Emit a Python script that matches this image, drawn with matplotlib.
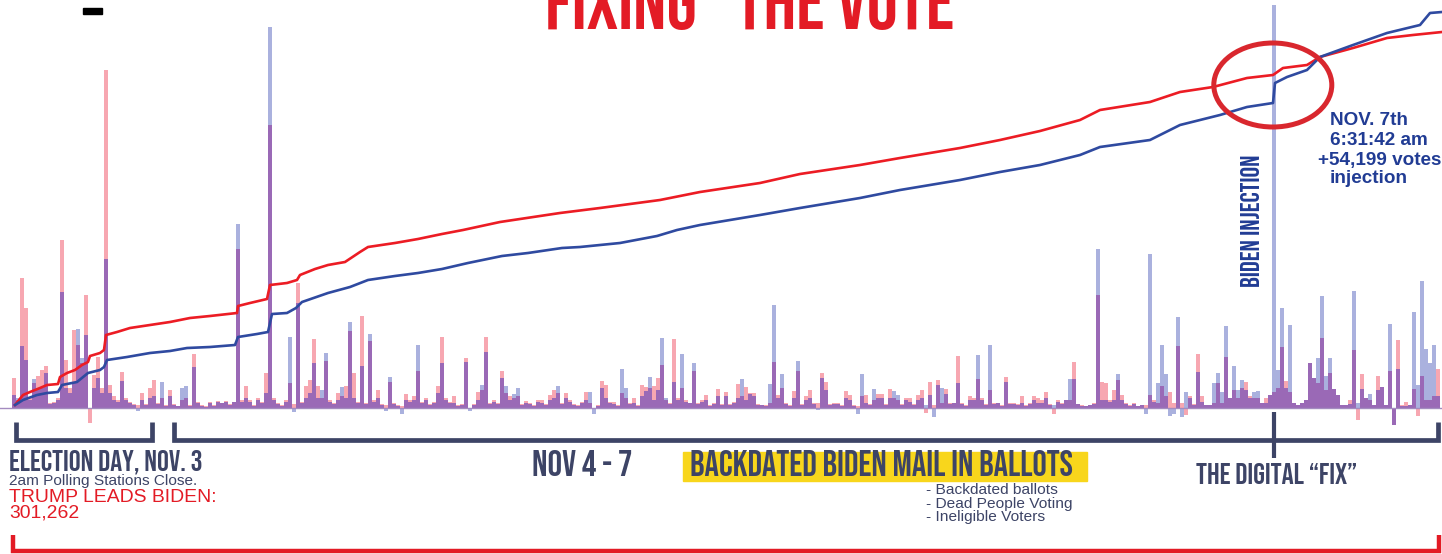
import numpy as np
import matplotlib
matplotlib.use("Agg")
import matplotlib.pyplot as plt
from matplotlib import font_manager
from matplotlib.lines import Line2D
from matplotlib.patches import Ellipse, Rectangle

W, H = 1442, 554

# votes added per reporting batch (arbitrary units)
trump_batch = [
    30, 8, 130, 100, 10, 25, 32, 38, 42, 5,
    6, 10, 168, 48, 20, 78, 63, 45, 113, -15,
    33, 51, 20, 338, 23, 12, 8, 36, 10, 6,
    4, 3, 15, 4, 20, 28, 5, 10, 3, 18,
    4, 2, 8, 10, 3, 54, 6, 3, 2, 6,
    3, 7, 5, 7, 4, 6, 159, 8, 22, 8,
    3, 10, 6, 35, 283, 10, 5, 3, 8, 25,
    4, 125, 6, 22, 28, 69, 22, 10, 47, 8,
    5, 15, 12, 22, 77, 35, 6, 92, 5, 67,
    8, 18, 4, 3, 26, 5, 3, 2, 14, 8,
    12, 37, 6, 10, 4, 6, 22, 71, 10, 6,
    12, 3, 4, 50, 0, 4, 16, 18, 71, 5,
    8, 5, 37, 15, 12, 10, 12, 4, 7, 5,
    3, 8, 8, 4, 13, 18, 15, 5, 15, 8,
    4, 3, 6, 16, 5, 0, 3, 27, 23, 6,
    6, 3, 15, 10, 5, 10, 3, 23, 21, 20,
    22, 30, 43, 8, 5, 69, 10, 20, 8, 5,
    37, 5, 8, 13, 3, 5, 19, 4, 16, 4,
    6, 24, 12, 21, 15, 15, 4, 3, 3, 5,
    46, 13, 20, 5, 3, 17, 37, 4, 12, 18,
    5, 5, 35, 26, 4, 5, 5, 3, 17, 13,
    3, 2, 12, 13, 4, 8, 14, 14, 4, 19,
    10, 8, 4, 10, 10, 4, 13, 18, -5, 26,
    3, 28, 5, 19, 5, 5, 52, 5, 3, 12,
    10, 29, 10, 4, 18, 5, 5, 3, 31, 5,
    5, 4, 12, 3, 5, 12, 10, 8, 16, 4,
    -6, 8, 5, 8, 8, 46, 4, 3, 2, 3,
    5, 113, 26, 25, 8, 18, 28, 13, 5, 3,
    5, 2, 3, 3, 13, 8, 5, 22, 12, 16,
    5, 62, 5, -7, 12, 4, 54, 12, 3, 3,
    5, 25, 5, 51, 10, 18, 10, 20, 26, 12,
    10, 10, 5, 10, 13, 16, 20, 61, 27, 16,
    5, 3, 5, 8, 45, 30, 25, 70, 18, 35,
    19, 13, 3, 3, 8, 58, -12, 34, 10, 8,
    3, 32, 21, 3, 37, -17, 68, 3, 6, 3,
    19, -8, 32, 8, 8, 12, 39,
]
biden_batch = [
    13, 10, 62, 48, 8, 29, 20, 20, 35, 4,
    5, 8, 116, 20, 15, 25, 79, 50, 73, 0,
    20, 30, 15, 149, 15, 8, 6, 27, 8, 5,
    3, -3, 8, 3, 10, 12, 4, 26, 2, 12,
    3, 2, 20, 22, 2, 41, 5, 2, 1, 5,
    2, 6, 5, 6, 3, 6, 184, 6, 10, 6,
    2, 8, 5, 15, 381, 8, 4, 2, 6, 71,
    -4, 105, 5, 10, 15, 45, 10, 18, 55, 6,
    4, 8, 21, 10, 86, 10, 5, 42, 4, 74,
    6, 10, 3, -3, 31, 4, 2, -6, 8, 6,
    8, 63, 5, 8, 3, 5, 15, 45, 8, 5,
    5, 2, 3, 46, -3, 3, 8, 23, 56, 4,
    6, 4, 30, 22, 8, 14, 20, 3, 5, 4,
    2, 6, 5, 3, 8, 10, 22, 4, 10, 6,
    3, 2, 5, 8, 16, -6, 2, 20, 10, 5,
    4, 2, 39, 20, 4, 5, 2, 12, 17, 31,
    8, 18, 70, 10, 4, 26, 8, 54, 6, 5,
    45, 4, 6, 8, 2, 4, 12, 3, 12, 3,
    5, 10, 29, 8, 14, 12, 3, 3, 2, 24,
    103, 10, 34, 4, 2, 10, 47, 3, 8, 10,
    4, -2, 30, 18, 3, 4, 4, 2, 10, 8,
    2, -6, 34, 5, 3, 19, 10, 10, 3, 10,
    17, 13, 3, 8, 6, 3, 8, 10, 3, 13,
    -9, 23, 20, 14, 4, 5, 25, 4, 2, 8,
    8, 53, 8, 3, 63, 4, 5, 2, 26, 4,
    4, 3, 5, 2, 4, 8, 5, 5, 10, 3,
    3, 6, 4, 8, 29, 29, 4, 2, 2, 3,
    4, 159, 8, 8, 6, 8, 34, 8, 4, 2,
    4, 2, 3, -6, 154, 6, 25, 63, 34, -8,
    -6, 91, -9, 16, 10, 3, 36, 6, 3, 3,
    25, 35, 16, 82, 10, 42, 18, 28, 18, 10,
    16, 17, 5, 5, 13, 403, 38, 100, 20, 83,
    5, 3, 5, 8, 45, 30, 50, 112, 32, 50,
    19, 13, 3, 3, 4, 117, 5, 19, 10, 14,
    3, 18, 21, 3, 84, -17, 39, 2, 2, 3,
    96, 23, 127, 59, 45, 63, 12,
]

# running totals, sampled along the batch axis
trump_total_pos = [0.25, 2.25, 4, 6.5, 8.25, 11, 11.5, 13.25, 15.25, 17, 18.5, 19,
                   21.5, 22.5, 23, 25.75, 29, 34, 39, 44, 49, 55.75, 56, 59, 63.25,
                   64, 68.25, 70.75, 71.5, 75.25, 78.5, 82.75, 86.5, 88.5, 95.25,
                   101, 107, 112.25, 121.5, 136.5, 146.5, 161.5, 171.5, 186.5,
                   196.5, 211.5, 221.5, 236.5, 246.5, 256.5, 266.5, 271.5, 284,
                   291.5, 299.75, 308.25, 314.75, 317.25, 323.25, 326.5, 334.75,
                   343.25, 349.75, 357]
trump_total = [3, 13, 16, 20, 23, 24, 31, 35, 38, 43, 46, 52,
               55, 58, 73, 76, 80, 83, 86, 90, 92, 95, 102, 105, 109,
               123, 125, 128, 133, 139, 143, 146, 156, 161, 165,
               169, 174, 178, 186, 195, 200, 208, 216, 225,
               234, 243, 250, 260, 268, 277, 288, 298, 306,
               316, 321, 330, 333, 340, 343, 351, 360,
               370, 373, 376]
biden_total_pos = [0.25, 2.25, 5.75, 8.25, 11, 12, 15.75, 18.5, 21.5, 22.5, 23.25,
                   28.25, 34, 39, 43.25, 49, 55.25, 56, 60.75, 63.5, 64.5, 68.25,
                   70.5, 72, 78.5, 84, 88.5, 95.25, 101, 107, 113.5, 122, 128.5,
                   137, 141.5, 151.5, 160.75, 165.75, 171.5, 186.5, 196.5, 211.5,
                   221.5, 236.5, 246.5, 256.5, 266.5, 271.5, 284, 291.5, 301.5,
                   308.25, 314.75, 315.25, 318.25, 323.25, 326.5, 334.75, 343.25,
                   351.5, 354, 357]
biden_total = [3, 8, 13, 15, 16, 23, 26, 35, 38, 41, 48,
               51, 55, 57, 60, 61, 63, 71, 74, 76, 94, 95,
               100, 106, 115, 121, 128, 132, 135, 139, 145, 152, 155,
               160, 161, 165, 172, 178, 183, 193, 200, 210,
               218, 228, 236, 243, 253, 261, 268, 283, 293,
               301, 305, 325, 331, 338, 351, 363, 375,
               383, 395, 396]

NAVY = '#3d4466'
RED = '#e31b25'
BLUE_TXT = '#213c94'

avail = {f.name for f in font_manager.fontManager.ttflist}
COND = next((n for n in ['Bebas Neue', 'Roboto Condensed', 'Open Sans Condensed',
                         'Liberation Sans Narrow'] if n in avail), 'DejaVu Sans')
PLAIN = 'Liberation Sans' if 'Liberation Sans' in avail else 'DejaVu Sans'
HEAD = dict(family=COND, weight='bold', stretch='condensed')

fig = plt.figure(figsize=(W / 100, H / 100), dpi=100)
fig.patch.set_facecolor('white')
ax = fig.add_axes([0, 0, 1, 1])
ax.set_xlim(-3.5, 357)
ax.set_ylim(-146, 408)
ax.axis('off')

t = np.asarray(trump_batch, dtype=float)
b = np.asarray(biden_batch, dtype=float)
x = np.arange(len(t))
both_up = (t > 0) & (b > 0)
both_dn = (t < 0) & (b < 0)
overlap = np.where(both_up, np.minimum(t, b), np.where(both_dn, np.maximum(t, b), 0))

bw = 0.8
ax.bar(x, t, bw, color='#f7a7b1', linewidth=0, zorder=2)
ax.bar(x, b, bw, color='#aab1de', linewidth=0, zorder=2)
ax.bar(x, overlap, bw, color='#9a69b6', linewidth=0, zorder=3)
ax.axhline(0, color='#a48bc0', lw=1.0, zorder=3)

ax.plot(trump_total_pos, trump_total, color='#ec1c24', lw=1.9, zorder=5,
        solid_joinstyle='round')
ax.plot(biden_total_pos, biden_total, color='#2f4aa0', lw=1.9, zorder=5,
        solid_joinstyle='round')

# circle round the big biden batch
inj = int(np.argmax(b))
ax.add_patch(Ellipse((inj - 0.3, 323), 29.5, 84, fill=False, ec='#d9272e',
                     lw=3.6, zorder=6))


def fxy(px, py):
    return px / W, 1 - py / H


def bracket(pts, color, lw):
    xs, ys = zip(*[fxy(px, py) for px, py in pts])
    fig.add_artist(Line2D(xs, ys, transform=fig.transFigure, color=color, lw=lw,
                          solid_joinstyle='miter', solid_capstyle='butt'))


bracket([(16, 422), (16, 440), (152, 440), (152, 422)], NAVY, 3.4)
bracket([(174, 422), (174, 440), (1438, 440), (1438, 422)], NAVY, 3.4)
bracket([(1274, 412), (1274, 458)], NAVY, 3.0)
bracket([(13, 535), (13, 551), (1439, 551), (1439, 535)], RED, 3.2)

fig.add_artist(Rectangle(fxy(683, 481), 404 / W, 29 / H, transform=fig.transFigure,
                         color='#f8d61c', zorder=1))
fig.add_artist(Rectangle(fxy(83, 14), 19 / W, 6 / H, transform=fig.transFigure,
                         color='black'))

fig.canvas.draw()
renderer = fig.canvas.get_renderer()


def put(px, py, s, width=None, size=10, **kw):
    tx = fig.text(*fxy(px, py), s, fontsize=size, **kw)
    if width:
        bb = tx.get_window_extent(renderer)
        span = bb.height if kw.get('rotation') == 90 else bb.width
        tx.set_fontsize(size * width / span)
    return tx


put(737, 29, '\u201cFIXING\u201d THE VOTE', width=435, size=30, color=RED,
    ha='center', va='baseline', **HEAD)

put(9, 470, 'ELECTION DAY, NOV. 3', width=195, color=NAVY, va='baseline', **HEAD)
put(9, 485, '2am Polling Stations Close.', width=188, color=NAVY, va='baseline',
    family=PLAIN)
tl = put(9, 502, 'TRUMP LEADS BIDEN:', width=207, color=RED, va='baseline', family=PLAIN)
put(9, 518, '301,262', size=tl.get_fontsize(), color=RED, va='baseline', family=PLAIN)

put(532, 476, 'NOV 4 - 7', width=101, color=NAVY, va='baseline', **HEAD)
put(690, 476, 'BACKDATED BIDEN MAIL IN BALLOTS', width=388, color=NAVY,
    va='baseline', **HEAD)
bl = put(926, 494, '- Backdated ballots', width=132, color=NAVY, va='baseline',
         family=PLAIN)
put(926, 508, '- Dead People Voting', size=bl.get_fontsize(), color=NAVY,
    va='baseline', family=PLAIN)
put(926, 521, '- Ineligible Voters', size=bl.get_fontsize(), color=NAVY,
    va='baseline', family=PLAIN)
put(1196, 484, 'THE DIGITAL \u201cFIX\u201d', width=163, color=NAVY, va='baseline', **HEAD)

put(1251, 287, 'BIDEN INJECTION', width=134, color=BLUE_TXT, rotation=90,
    ha='center', va='bottom', **HEAD)

nb = put(1330, 145, '6:31:42 am', width=98, color=BLUE_TXT, va='baseline',
         family=PLAIN, weight='bold')
fs = nb.get_fontsize()
put(1330, 125, 'NOV. 7th', size=fs, color=BLUE_TXT, va='baseline', family=PLAIN,
    weight='bold')
put(1318, 165, '+54,199 votes', size=fs, color=BLUE_TXT, va='baseline',
    family=PLAIN, weight='bold')
put(1330, 183, 'injection', size=fs, color=BLUE_TXT, va='baseline', family=PLAIN,
    weight='bold')

fig.savefig('out.png', dpi=100, facecolor='white')
